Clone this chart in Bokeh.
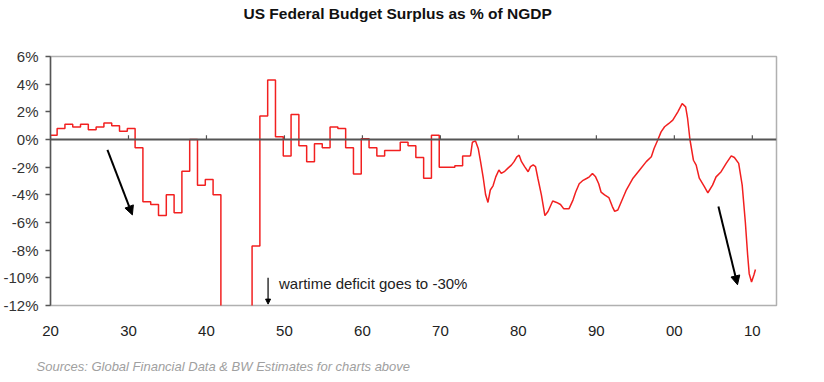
from bokeh.plotting import figure
from bokeh.models import (Range1d, FixedTicker, PrintfTickFormatter, Span, Arrow,
                          NormalHead, Label, LinearAxis, Title)
from bokeh.embed import file_html
from bokeh.resources import INLINE

# ---- data ----
# annual fiscal-year balances (% of NGDP), drawn as steps
fy_years = list(range(1920, 1974))
fy_balance = [0.3, 0.8, 1.1, 0.9, 1.1, 0.7, 0.9, 1.2, 1.0, 0.6,
              0.8, -0.6, -4.5, -4.7, -5.5, -4.0, -5.3, -2.3, 0.0, -3.3,
              -2.9, -4.0, -13.9, -29.6, -22.2, -21.0, -7.7, 1.7, 4.3, 0.2,
              -1.2, 1.8, -0.45, -1.6, -0.3, -0.6, 0.9, 0.8, -0.6, -2.5,
              0.05, -0.6, -1.2, -0.8, -0.8, -0.2, -0.45, -1.3, -2.8, 0.3,
              -2.0, -2.0, -1.9, -1.2]

# rolling (monthly) balance from mid-1970s
roll_year = [1973.85, 1974.1, 1974.5, 1974.85, 1975.15, 1975.5, 1975.8, 1976.1, 1976.4,
             1976.75, 1977.1, 1977.5, 1977.8, 1978.25, 1978.7, 1979.1, 1979.45, 1979.8,
             1980.1, 1980.4, 1980.8, 1981.25, 1981.55, 1981.9, 1982.2, 1982.5, 1982.95,
             1983.4, 1983.8, 1984.4, 1984.9, 1985.4, 1985.8, 1986.5, 1987.0, 1987.35,
             1987.8, 1988.3, 1988.8, 1989.1, 1989.5, 1989.9, 1990.3, 1990.6, 1991.05,
             1991.6, 1992.05, 1992.35, 1992.75, 1993.2, 1993.8, 1994.7, 1995.55, 1996.4,
             1997.05, 1997.4, 1997.9, 1998.3, 1998.75, 1999.3, 1999.8, 2000.45, 2001.0,
             2001.45, 2001.7, 2002.0, 2002.45, 2002.8, 2003.2, 2003.85, 2004.3, 2004.9,
             2005.35, 2006.0, 2006.65, 2007.3, 2007.7, 2008.25, 2008.7, 2009.1, 2009.4,
             2009.6, 2009.9, 2010.2, 2010.4]
roll_balance = [-1.2, -0.2, -0.1, -0.65, -1.6, -2.8, -4.0, -4.55, -3.65,
                -3.35, -2.7, -2.2, -2.45, -2.3, -2.05, -1.85, -1.6, -1.25,
                -1.13, -1.6, -1.96, -2.33, -1.96, -1.84, -1.96, -2.8, -4.0,
                -5.5, -5.2, -4.45, -4.55, -4.7, -5.0, -5.0, -4.38, -3.8,
                -3.2, -2.95, -2.8, -2.7, -2.45, -2.7, -3.2, -3.8, -4.0,
                -4.2, -4.85, -5.2, -5.1, -4.5, -3.7, -2.8, -2.2, -1.6,
                -1.25, -0.65, 0.0, 0.55, 0.92, 1.16, 1.4, 2.0, 2.6,
                2.36, 1.52, 0.0, -1.5, -1.85, -2.8, -3.4, -3.85, -3.3,
                -2.7, -2.33, -1.73, -1.18, -1.3, -1.73, -3.3, -5.95, -8.35,
                -9.7, -10.3, -9.8, -9.4]

x_ticks = [1920, 1930, 1940, 1950, 1960, 1970, 1980, 1990, 2000, 2010]
x_tick_labels = ["20", "30", "40", "50", "60", "70", "80", "90", "00", "10"]
y_ticks = [-12, -10, -8, -6, -4, -2, 0, 2, 4, 6]

title_text = "US Federal Budget Surplus as % of NGDP"
source_text = "Sources: Global Financial Data & BW Estimates for charts above"
note_text = "wartime deficit goes to -30%"

# ---- figure ----
p = figure(width=816, height=377, output_backend="svg", toolbar_location=None,
           x_range=Range1d(1920, 2013.1), y_range=Range1d(-12, 6),
           min_border_left=49, min_border_right=40, min_border_top=55,
           min_border_bottom=72)
p.background_fill_color = "white"
p.border_fill_color = "white"
p.outline_line_color = "#b0b0b0"
p.outline_line_width = 1.5
p.grid.visible = False

FONT = "Liberation Sans"

# y axis
p.yaxis.ticker = FixedTicker(ticks=y_ticks)
p.yaxis.formatter = PrintfTickFormatter(format="%d%%")
p.yaxis.axis_line_color = "#555555"
p.yaxis.axis_line_width = 1.5
p.yaxis.major_tick_line_color = "#555555"
p.yaxis.major_tick_line_width = 1.5
p.yaxis.major_tick_out = 5
p.yaxis.major_tick_in = 0
p.yaxis.minor_tick_line_color = None
p.yaxis.major_label_standoff = 7
p.yaxis.major_label_text_font = FONT
p.yaxis.major_label_text_font_size = "15px"
p.yaxis.major_label_text_color = "#333333"

# x axis (labels only, below frame)
p.xaxis.ticker = FixedTicker(ticks=x_ticks)
p.xaxis.major_label_overrides = {t: l for t, l in zip(x_ticks, x_tick_labels)}
p.xaxis.axis_line_color = None
p.xaxis.major_tick_line_color = None
p.xaxis.minor_tick_line_color = None
p.xaxis.major_tick_out = 0
p.xaxis.major_tick_in = 0
p.xaxis.major_label_standoff = 20
p.xaxis.major_label_text_font = FONT
p.xaxis.major_label_text_font_size = "15px"
p.xaxis.major_label_text_color = "#222222"


def spacer(size):
    # an invisible, label-free axis whose only job is to take up `size` pixels
    return LinearAxis(ticker=FixedTicker(ticks=[1950]), axis_line_color=None,
                      major_tick_line_color=None, minor_tick_line_color=None,
                      major_tick_out=size, major_tick_in=0, minor_tick_out=0,
                      minor_tick_in=0, major_label_standoff=0,
                      major_label_overrides={1950: ""},
                      major_label_text_font_size="0px")


# zero line with small tick marks
p.add_layout(Span(location=0, dimension="width", line_color="#555555", line_width=1.8))
p.segment(x0=x_ticks, y0=[0] * len(x_ticks), x1=x_ticks, y1=[0.3] * len(x_ticks),
          line_color="#555555", line_width=1.2)

# series
step_x = [y - 0.15 for y in fy_years] + [fy_years[-1] + 0.85]
step_y = fy_balance + [fy_balance[-1]]
RED = "#f22020"
p.step(step_x, step_y, mode="after", line_color=RED, line_width=1.5)
p.line(roll_year, roll_balance, line_color=RED, line_width=1.5)

# arrows
p.add_layout(Arrow(x_start=1927.3, y_start=-0.75, x_end=1930.5, y_end=-5.45,
                   line_color="black", line_width=2,
                   end=NormalHead(size=9, fill_color="black", line_color="black")))
p.add_layout(Arrow(x_start=2005.65, y_start=-4.85, x_end=2008.1, y_end=-10.5,
                   line_color="black", line_width=2,
                   end=NormalHead(size=9, fill_color="black", line_color="black")))
p.add_layout(Arrow(x_start=1947.9, y_start=-10.0, x_end=1947.9, y_end=-11.9,
                   line_color="black", line_width=1.2,
                   end=NormalHead(size=5, fill_color="black", line_color="black")))
p.add_layout(Label(x=1949.3, y=-10.4, text=note_text, text_font=FONT,
                   text_font_size="15px", text_color="#222222",
                   text_baseline="middle", text_align="left"))

# title above and source note below, pushed away from the frame by spacers
p.add_layout(spacer(33), "above")
p.add_layout(Title(text=title_text, align="left", offset=193, standoff=4,
                   text_font=FONT, text_font_size="15.5px", text_font_style="bold",
                   text_color="#111111"), "above")
p.add_layout(spacer(17), "below")
p.add_layout(Title(text=source_text, align="left", offset=-14, standoff=2,
                   text_font=FONT, text_font_size="13px", text_font_style="italic",
                   text_color="#a0a0a0"), "below")

open("out.html", "w").write(file_html(p, INLINE))
